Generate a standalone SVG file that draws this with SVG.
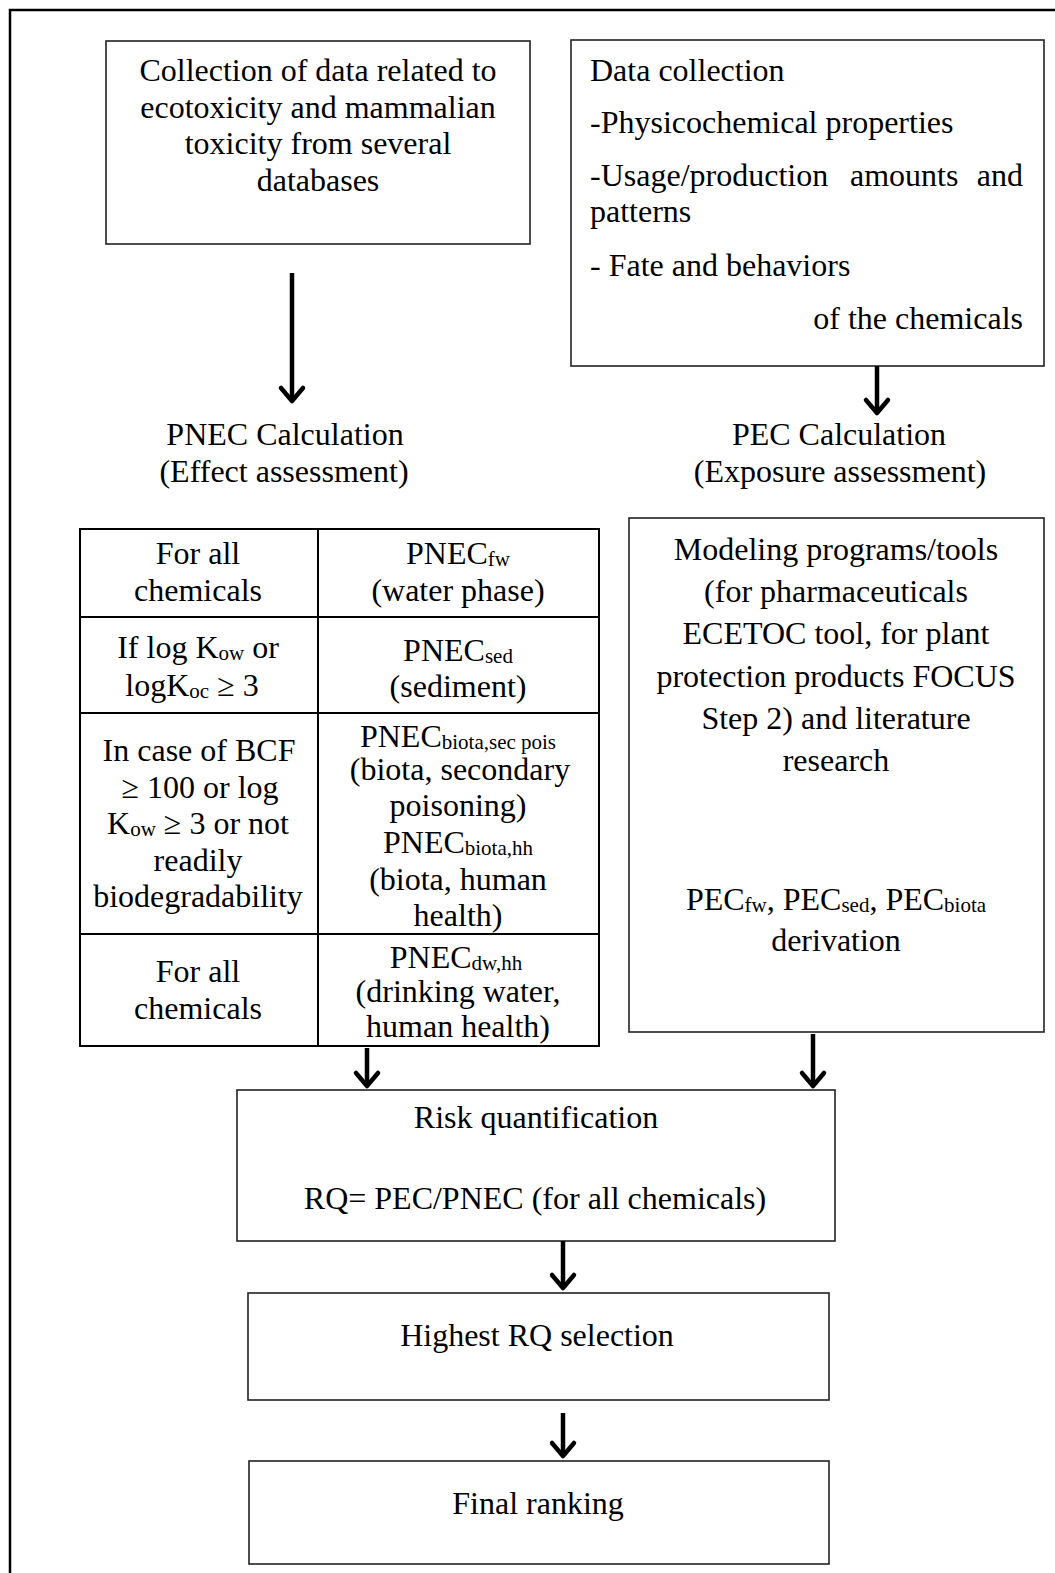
<svg xmlns="http://www.w3.org/2000/svg" width="1055" height="1573" viewBox="0 0 1055 1573">
<style>
text{font-family:"Liberation Serif","Times New Roman",serif;font-size:32px;fill:#000}
.c{text-anchor:middle}
.e{text-anchor:end}
.box{fill:#fff;stroke:#222;stroke-width:1.6}
.tbl{fill:none;stroke:#000;stroke-width:2}
.sh{stroke:#000;stroke-width:4.5;fill:none}
.hd{stroke:#000;stroke-width:4.5;fill:none;stroke-linecap:round;stroke-linejoin:round}
.s{font-size:21px}
</style>
<rect width="1055" height="1573" fill="#fff"/>
<g id="frame"><path d="M10,1573 V10 H1055" fill="none" stroke="#000" stroke-width="2.5"/></g>

<g id="n-collection">
<rect class="box" x="106" y="41" width="424" height="203"/>
<text class="c" x="318" y="81">Collection of data related to</text>
<text class="c" x="318" y="118">ecotoxicity and mammalian</text>
<text class="c" x="318" y="154">toxicity from several</text>
<text class="c" x="318" y="191">databases</text>
</g>

<g id="n-datacollection">
<rect class="box" x="571" y="40" width="473" height="326"/>
<text x="590" y="81">Data collection</text>
<text x="590" y="133">-Physicochemical properties</text>
<text x="590" y="186">-Usage/production</text>
<text x="850" y="186">amounts</text>
<text class="e" x="1023" y="186">and</text>
<text x="590" y="222">patterns</text>
<text x="590" y="276">- Fate and behaviors</text>
<text class="e" x="1023" y="329">of the chemicals</text>
</g>

<g id="n-pnec-label">
<text class="c" x="285" y="445">PNEC Calculation</text>
<text class="c" x="284" y="482">(Effect assessment)</text>
</g>
<g id="n-pec-label">
<text class="c" x="839" y="445">PEC Calculation</text>
<text class="c" x="840" y="482">(Exposure assessment)</text>
</g>

<g id="n-table">
<rect class="tbl" x="80" y="529" width="519" height="517"/>
<path class="tbl" d="M318,529 V1046 M80,617 H599 M80,713 H599 M80,934 H599"/>
<text class="c" x="198" y="564">For all</text>
<text class="c" x="198" y="601">chemicals</text>
<text class="c" x="458" y="564">PNEC<tspan class="s" dy="2">fw</tspan></text>
<text class="c" x="458" y="601">(water phase)</text>
<text class="c" x="198" y="658">If log K<tspan class="s" dy="2">ow</tspan><tspan dy="-2"> or</tspan></text>
<text class="c" x="192" y="696">logK<tspan class="s" dy="2">oc</tspan><tspan dy="-2">  ≥ 3</tspan></text>
<text class="c" x="458" y="661">PNEC<tspan class="s" dy="2">sed</tspan></text>
<text class="c" x="458" y="697">(sediment)</text>
<text class="c" x="199" y="761">In case of  BCF</text>
<text class="c" x="200" y="798">≥ 100 or  log</text>
<text class="c" x="198" y="834">K<tspan class="s" dy="2">ow</tspan><tspan dy="-2"> ≥ 3 or not</tspan></text>
<text class="c" x="198" y="871">readily</text>
<text class="c" x="198" y="907">biodegradability</text>
<text class="c" x="458" y="747">PNEC<tspan class="s" dy="2">biota,sec pois</tspan></text>
<text class="c" x="460" y="780">(biota, secondary</text>
<text class="c" x="458" y="816">poisoning)</text>
<text class="c" x="458" y="853">PNEC<tspan class="s" dy="2">biota,hh</tspan></text>
<text class="c" x="458" y="890">(biota, human</text>
<text class="c" x="458" y="926">health)</text>
<text class="c" x="198" y="982">For all</text>
<text class="c" x="198" y="1019">chemicals</text>
<text class="c" x="456" y="968">PNEC<tspan class="s" dy="2">dw,hh</tspan></text>
<text class="c" x="458" y="1002">(drinking water,</text>
<text class="c" x="458" y="1037">human health)</text>
</g>

<g id="n-modeling">
<rect class="box" x="629" y="518" width="415" height="514"/>
<text class="c" x="836" y="560">Modeling programs/tools</text>
<text class="c" x="836" y="602">(for pharmaceuticals</text>
<text class="c" x="836" y="644">ECETOC tool, for plant</text>
<text class="c" x="836" y="687">protection products FOCUS</text>
<text class="c" x="836" y="729">Step 2) and literature</text>
<text class="c" x="836" y="771">research</text>
<text class="c" x="836" y="910">PEC<tspan class="s" dy="2">fw</tspan><tspan dy="-2">, PEC</tspan><tspan class="s" dy="2">sed</tspan><tspan dy="-2">, PEC</tspan><tspan class="s" dy="2">biota</tspan></text>
<text class="c" x="836" y="951">derivation</text>
</g>

<g id="n-risk">
<rect class="box" x="237" y="1090" width="598" height="151"/>
<text class="c" x="536" y="1128">Risk quantification</text>
<text class="c" x="535" y="1209">RQ= PEC/PNEC (for all chemicals)</text>
</g>

<g id="n-highest">
<rect class="box" x="248" y="1293" width="581" height="107"/>
<text class="c" x="537" y="1346">Highest RQ selection</text>
</g>

<g id="n-final">
<rect class="box" x="249" y="1461" width="580" height="103"/>
<text class="c" x="538" y="1514">Final ranking</text>
</g>

<g id="connectors">
<path class="sh" d="M292,273 V398"/><path class="hd" d="M281,388 L292,401 L303,388"/>
<path class="sh" d="M877,366 V410"/><path class="hd" d="M866,400 L877,413 L888,400"/>
<path class="sh" d="M367,1048 V1083"/><path class="hd" d="M356,1073 L367,1086 L378,1073"/>
<path class="sh" d="M813,1034 V1083"/><path class="hd" d="M802,1073 L813,1086 L824,1073"/>
<path class="sh" d="M563,1241 V1285"/><path class="hd" d="M552,1275 L563,1288 L574,1275"/>
<path class="sh" d="M563,1413 V1453"/><path class="hd" d="M552,1443 L563,1456 L574,1443"/>
</g>
</svg>
